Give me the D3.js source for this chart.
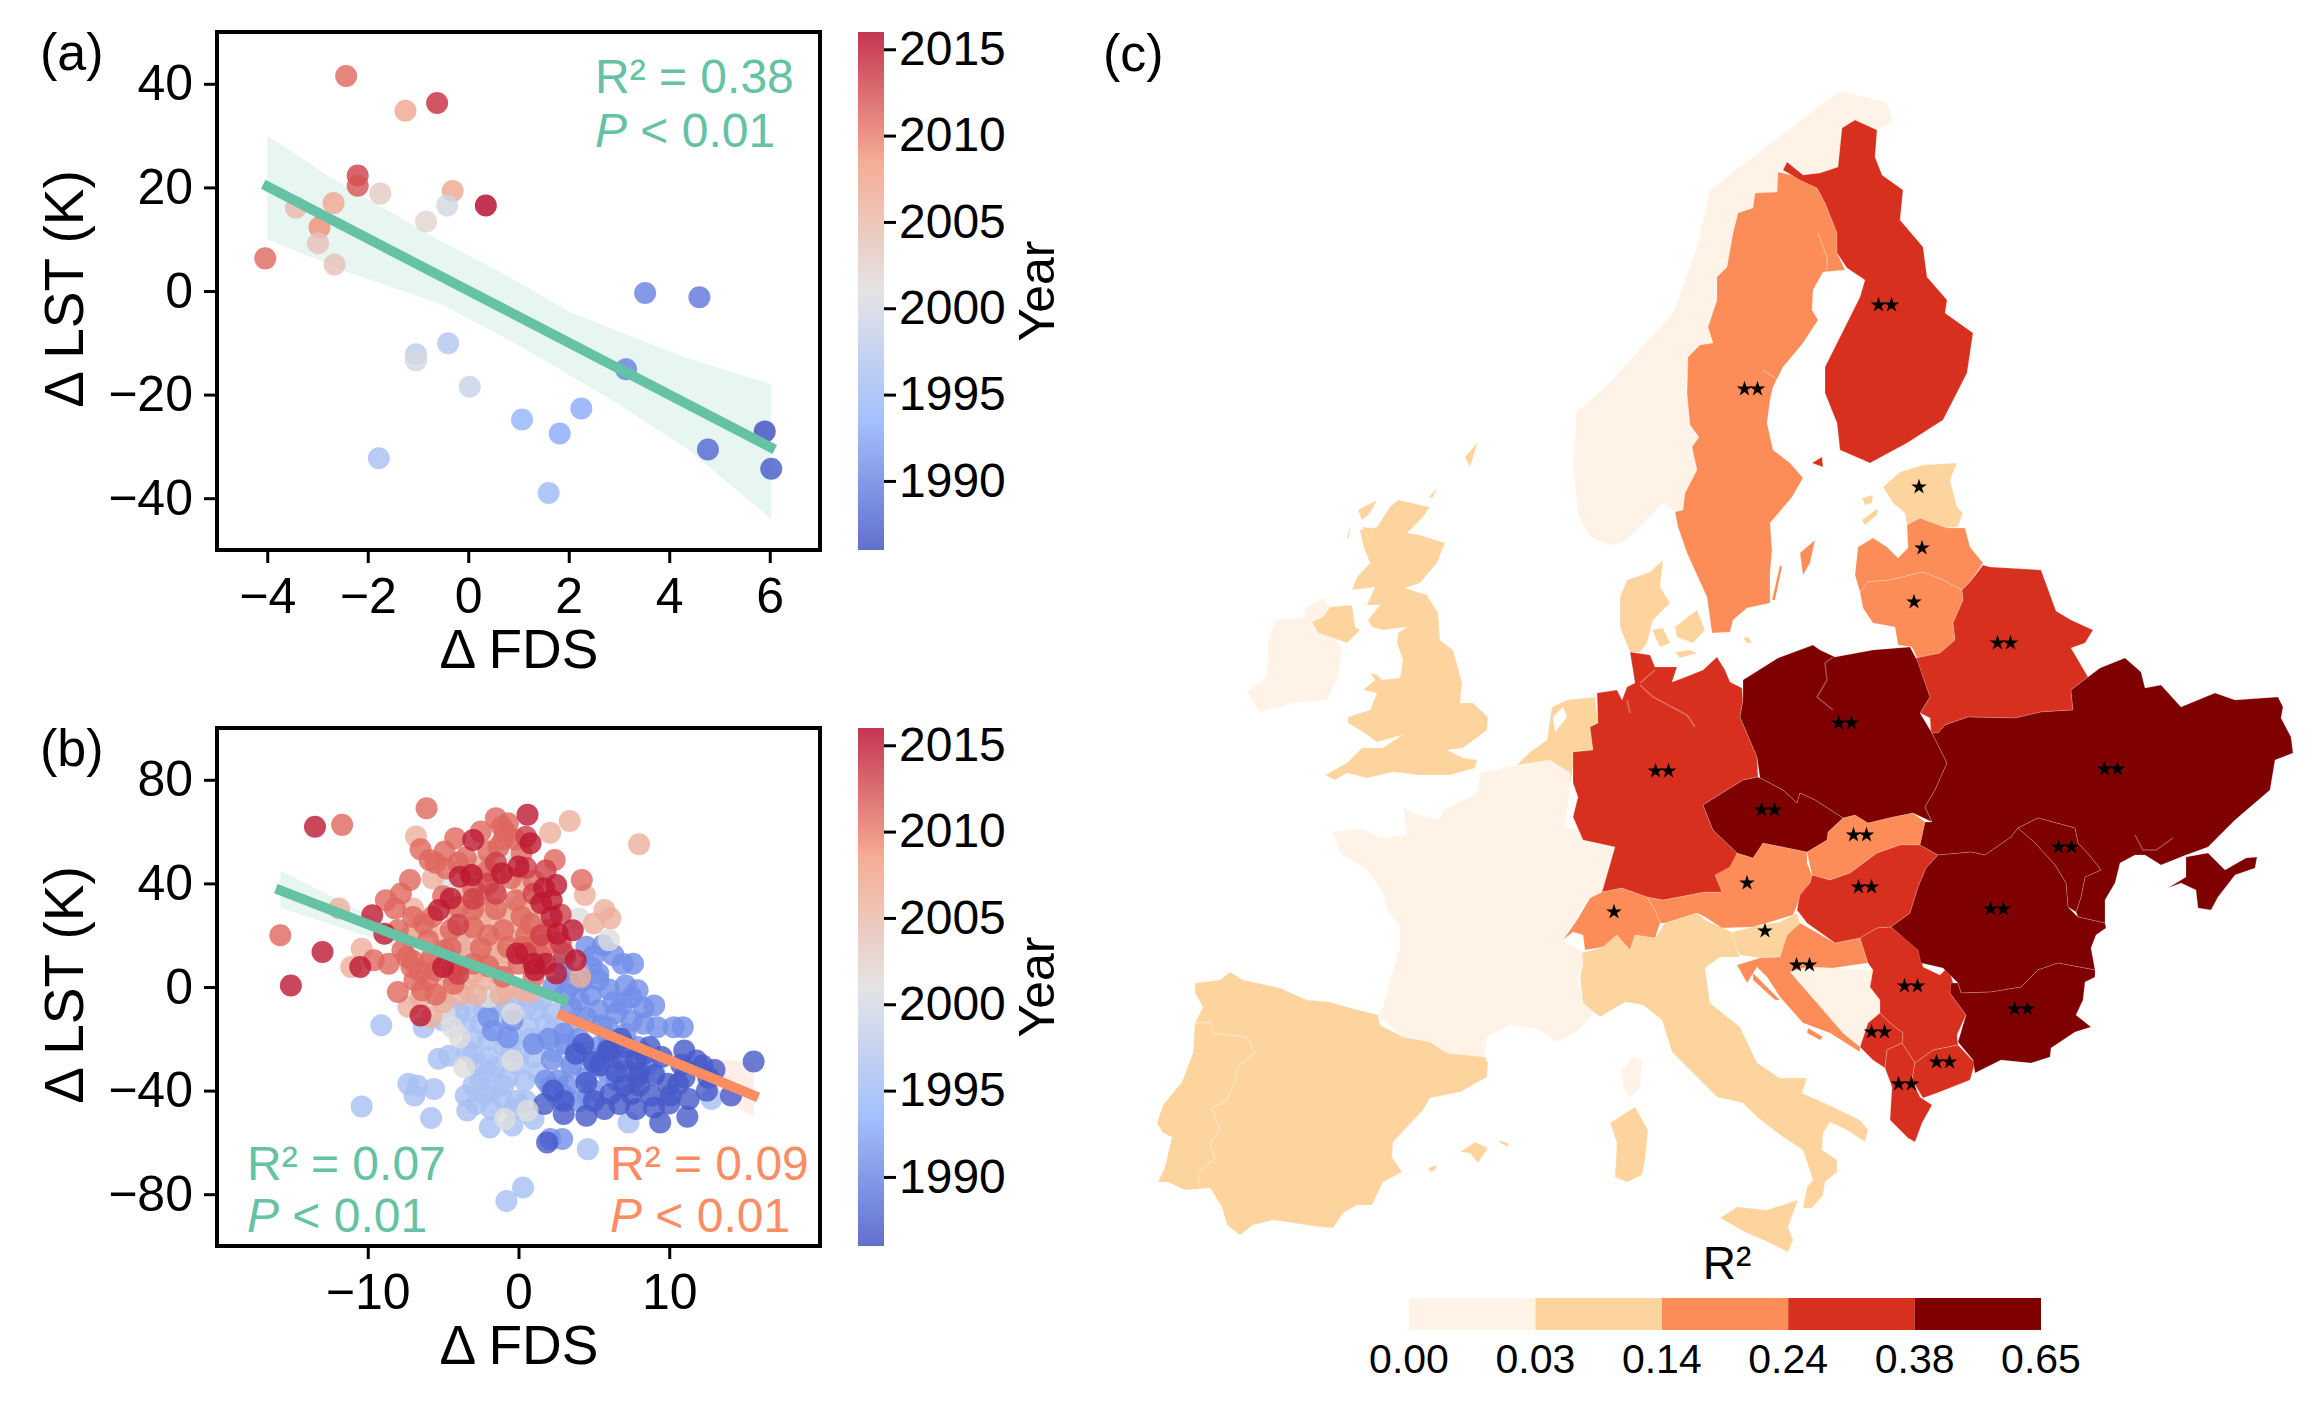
<!DOCTYPE html>
<html>
<head>
<meta charset="utf-8">
<script src="https://cdn.jsdelivr.net/npm/d3@7"></script>
<style>
  html, body { margin: 0; background: #fff; }
  text { font-family: "Liberation Sans", Arial, sans-serif; fill: #000; }
  .axis path { display: none; }
  .axis line { stroke: #000; stroke-width: 3; }
</style>
</head>
<body>
<svg id="chart" width="2318" height="1412"></svg>
<script>
// panel (a): x, y, year
const panelA = [
  [-2.43,41.5,2011],[-1.25,34.8,2007],[-0.62,36.3,2014],[-2.2,22.3,2013],[-2.2,20.3,2012],[-1.75,18.8,2003],
  [-0.31,19.3,2007],[0.35,16.5,2016],[-0.42,16.5,2000],[-2.68,17,2007],[-3.43,16.1,2005],[-0.84,13.4,2002],
  [-2.96,12.3,2009],[-2.99,9.2,2004],[-2.66,5.1,2004],[-4.04,6.3,2011],[3.52,-0.4,1990],[4.6,-1.2,1989],
  [-0.4,-10.1,1997],[-1.04,-12.2,1998],[-1.04,-13.4,2000],[0.03,-18.5,1999],[3.14,-15.1,1990],[2.25,-22.7,1993],
  [1.07,-24.8,1994],[1.82,-27.5,1993],[4.77,-30.6,1988],[5.9,-27.1,1986],[6.03,-34.3,1987],[-1.78,-32.3,1996],[1.6,-39,1995]
];
const fitA = [[-4.08,20.6],[6.1,-30.6]];
const bandAUpper = [[-4,30],[-2.72,21.8],[-0.54,9.6],[0.69,3.4],[2.05,-4.2],[4.37,-13],[6.03,-18]];
const bandALower = [[-4,10],[-2.45,3.8],[-0.54,-2.5],[1.1,-11],[3,-21.9],[4.37,-30.6],[6.03,-44]];

// panel (b): points grouped by the year shade they show
const b1987 = [[15.6,-28.8],[14.1,-41.9],[12.5,-40],[11,-24.5],[11.8,-28.4],[12.2,-30.3],[11.3,-43.2],[11.2,-50.1],[9.4,-52.3],[9,-46.5],
  [7.8,-47.1],[6.7,-45.2],[5.7,-47.1],[4.5,-49.7],[3,-49],[1.7,-45.2],[9.9,-37.4],[10.6,-37.4],[10.1,-41.9],[8.7,-23.2],[7.8,-28.4],
  [6.9,-28.4],[7.1,-23.2],[6.1,-41.3],[7.5,-41.3],[3.8,-25.8],[5.9,-24.5],[1.9,-60],[7.9,-34.8],[5.4,-30.3],
  [3,-44],[5,-44],[8,-38],[8.8,-42],[9,-34],[10.8,-30],[11,-35],[12.6,-35],[13,-32],[8,-33],[6.5,-33],[7,-38],[4.5,-37],[8.3,-26],[9.5,-27],
  [6,-25],[6.8,-20],[4.3,-22],[5,-29],[2.3,-40],[10,-45]];
const b1991 = [[4.5,15.5],[5.6,16.1],[6.3,12.3],[7.6,9],[6.9,9],[5.3,5.2],[4.8,7.7],[3.1,11.6],[5.3,2.6],[7.1,0.6],[7.9,-1.3],[6.9,-6.5],
  [9,-7.1],[8.3,-14.2],[9.2,-15.5],[10.3,-15.5],[10.9,-15.5],[5.3,-9],[4,-5.2],[4.8,-3.2],[2.3,0],[3.1,-2.6],[2.9,-58.7],[2.1,-58.7],
  [1.8,-36.1],[2.1,-38.7],[3.8,-24.5],[3.1,-21.9],[5.3,-23.2],[6.1,-27.1],[4.5,-34.8],[5.3,-30.3],[7.1,-18.1],[-2,9],[-2,-11.6],[-0.4,-12.9],
  [-0.7,-19.4],[2.6,-36.1],[5.9,-15.5],[7.2,-32.3],[7.9,-23.2],[-1.7,-16.8],
  [5,12],[3,6],[4.2,2],[6,-1],[6.5,-10],[7.5,-4],[8.3,-8],[5.5,-15],[4.5,-12],[3.5,-8],[3,-18],[4,-20],[6,-20],[7.5,-13],[6,-34],[3.2,-38],
  [3.5,-30],[2.2,-28],[1,-22],[5,-40],[4,-44],[3,-42],[8.5,-30],[6.5,-36],[2,-20],[4.7,-27],[6.3,-6],[3.5,1]];
const b1996 = [[-9.1,-14.8],[-6.3,-15.5],[-5,-12.9],[-3.9,-10.3],[-3.1,-6.5],[-2.3,-9],[-5.3,-27.7],[-4.6,-26.5],[-7.3,-37.4],[-6.7,-38.1],
  [-6.9,-41.9],[-5.6,-39.4],[-10.4,-46.1],[-5.8,-50.6],[-3.4,-47.7],[-2.8,-45.2],[-1.9,-54.2],[-0.4,-53.5],[1,-51],[4.6,-62.6],[0.3,-77.4],
  [-0.8,-82.6],[-2.5,-35.5],[-0.9,-23.2],[0.2,-24.5],[1,-27.1],[-0.4,-19.4],[0.7,-15.5],[2.3,-16.8],[2.3,-10.3],[1.8,-14.2],[1.2,-9],[-0.1,-5.2],
  [-1.1,-42.6],[-0.1,-43.9],[-1.7,-40],[-1.5,-31],[-0.7,-34.8],[-2.3,-41.3],[9,-32.9],[7.3,-52.3],[12.8,-43.2],[2.7,-43.2],[4.6,-42.6],[-3.9,16.8],
  [-2,-27.1],[0.4,-36.1],[-3.4,-24.5],
  [-4.5,-8],[-3.5,-14],[-2.5,-14],[-1.5,-6],[-0.8,-8],[0.5,-8],[1.5,-5],[-3,-20],[-2,-20],[-1,-12],[-0.5,-25],[0.8,-20],[-2,-33],[-1,-38],[0,-30],
  [1.3,-33],[-3,-38],[-1.8,-47],[-0.3,-47],[-2.7,-30],[-3,-26],[1.5,-21],[3.5,-14],[4,-12],[3.5,-31],[2.3,-25],[0.5,-44],[-3.5,-42]];
const b2001 = [[4,26.5],[-0.9,31],[-2.8,47.1],[-1.2,49],[6,18.1],[-4.7,40],[1.2,27.1],[-0.4,-10.3],[-3.6,-31],[-3.9,-19.4],[-4.4,-15.5],
  [-0.9,-51],[0.6,-47.7],[-0.4,-28.4],[-2,-3.9],[-5.5,-5.2],[-4.9,-10.3]];
const b2006 = [[3.4,64.1],[2.1,59.6],[8,55.1],[-6.8,58.1],[-5.7,41.9],[4.4,35.5],[5.7,29.7],[6.1,26.5],[5,24.5],[-11.9,30.3],[-10.4,14.8],
  [-11.1,7.7],[-7,30.3],[-4.1,27.1],[-3.4,25.8],[-3.1,18.1],[-1.6,25.8],[-1.5,14.2],[0.2,38.7],[0.8,23.9],[-1.6,37.4],[-2.5,46.5],[-3.4,36.1],
  [-6.1,23.2],[-5,19.4],[-1.6,18.1],[-0.9,12.9],[4.1,3.9],[-7.3,-7.7],[-5.8,-11.6],[-5,-1.3],[-3.6,0],[-2.3,2.6],[-0.8,-0.6],[0.2,-1.3],[-4.2,3.9],
  [-0.4,21.3],[-7.2,19.4],
  [-4,20],[-3,13],[-2,12],[-1,9],[-1.2,4],[-3.8,-3],[-2.8,-3],[-1.2,-3],[0.8,-2],[-6.5,-4],[-5,-6],[-0.5,28],[0,31],[1,30],[-2,30],[-1.5,42],
  [-2.5,26],[-4,12],[-6,9],[-3,5],[-7,22],[-2.8,32]];
const b2011 = [[-11.7,62.6],[-6.1,69],[-1.5,65.2],[-1.1,61.9],[-0.7,63.2],[-0.9,60],[-2.5,60],[-4.2,57.4],[-6.5,53.2],[-5.9,49],[-4.9,52.3],
  [-4.8,45.8],[-2,52.3],[-1.3,54.2],[0.2,51.6],[2.4,49],[4.2,41.3],[-7.2,41.3],[-7.8,36.1],[-8.2,30.3],[-8.8,33.5],[-9.6,10.3],[-8.6,9],[-7.1,7.7],
  [-6.9,2.6],[-8,-1.9],[-6.4,-1.3],[-15.8,20],[-4.9,14.2],[-5.7,27.1],[-6.3,24.5],[-2.5,35.5],[-3.2,43.2],[0.2,27.1],[-0.2,33.5],[0.3,15.5],[1.8,16.1],
  [1.1,16.1],[-0.7,15.5],[0.8,24.5],[-7.4,11.6],[-7.7,14.2],[-4.4,7.1],[-4.3,1.3],[-5.5,6.5],
  [-5.5,48],[-4,48],[-3.5,50],[-1,57],[-0.2,57],[-2,45],[-0.5,42],[1,41],[-3,38],[-1.5,30],[-3,30],[-4.5,22],[-3,23],[-2,20],[-6,18],[-7,10],[-6,3],
  [-5.5,-3],[-4.5,15],[-3,9],[-2,8],[0,9],[1,4],[-1,4],[-4,8],[-6.5,6],[-5.8,11],[-8,22],[-7,27],[-5,35],[-4,31],[0.5,20],[2,22],[1.5,12],[-1,22],[-2.5,15]];
const b2013 = [[-1.5,48],[0.5,46],[1.8,45],[0.5,58],[-2,40],[1.5,20],[2.8,17],[3,13],[0.5,13],[-4,24],[-3,34],[1,36],[-4,5],[-1.5,36],[2.8,28]];
const b2015 = [[-13.5,61.9],[-13,13.5],[-15.1,0.6],[0.6,66.5],[-3,56.8],[0.8,55.5],[0,46.5],[-1.1,43.9],[-3.1,43.2],[-3.9,42.6],[-4.5,34.2],
  [-5.3,29.7],[1.7,38.1],[2.5,39.4],[2.2,33.5],[1.5,32.3],[2.2,27.1],[3.6,21.9],[3.8,10.3],[2.5,5.2],[1.8,9],[2.6,20.6],[-8.9,20.6],[-9.7,27.7],
  [-10.5,7.7],[-6.5,-11],[-5,7.7],[-0.1,12.9],[1.1,6.5],[1,9]];
const bGroupYears = [1996, 1991, 1987, 2001, 2006, 2011, 2013, 2015];
const bGroups = [b1996, b1991, b1987, b2001, b2006, b2011, b2013, b2015];

const fitBGreen = [[-16.1,38],[3.3,-5.8]];
const bandBGreenUpper = [[-15.8,45],[-10,28],[-5,14.5],[3.3,-3.5]];
const bandBGreenLower = [[-15.8,30.5],[-10,19.5],[-5,8],[3.3,-9]];
const fitBOrange = [[2.6,-10.3],[15.9,-42.6]];
const bandBOrangeUpper = [[2.6,-8],[9.4,-23.9],[15.6,-29.7]];
const bandBOrangeLower = [[2.6,-13],[9.4,-28.5],[15.6,-50]];

const yearTicks = [1990, 1995, 2000, 2005, 2010, 2015];
const r2Breaks = ["0.00", "0.03", "0.14", "0.24", "0.38", "0.65"];

// panel (c): outlines, in map units
const norway = [[1610,545],[1590,537],[1578,515],[1573,463],[1577,410],[1583,407],[1610,382],[1630,360],[1673,313],[1697,247],[1710,190],[1740,167],[1810,113],[1840,91],[1887,102],[1893,122],[1877,130],[1855,120],[1842,128],[1838,167],[1820,173],[1803,177],[1787,162],[1778,172],[1777,192],[1755,193],[1753,208],[1738,213],[1733,233],[1727,267],[1717,277],[1717,300],[1708,327],[1713,343],[1700,345],[1688,357],[1687,393],[1690,425],[1699,437],[1692,447],[1697,470],[1685,493],[1683,510],[1675,512],[1663,503],[1647,520],[1623,543]];
const sweden = [[1778,172],[1800,177],[1817,188],[1825,203],[1837,233],[1837,253],[1845,270],[1823,272],[1813,290],[1812,310],[1818,320],[1803,343],[1783,367],[1773,387],[1770,400],[1767,423],[1773,450],[1790,463],[1803,478],[1792,497],[1770,523],[1772,550],[1770,573],[1770,603],[1747,608],[1733,620],[1730,632],[1712,633],[1707,597],[1687,553],[1678,527],[1675,512],[1683,510],[1685,493],[1697,470],[1692,447],[1699,437],[1690,425],[1687,393],[1688,357],[1700,345],[1713,343],[1708,327],[1717,300],[1717,277],[1727,267],[1733,233],[1738,213],[1753,208],[1755,193],[1777,192]];
const gotland = [[1800,553],[1815,540],[1810,563],[1803,575]];
const oland = [[1772,600],[1780,565],[1782,567],[1775,600]];
const finland = [[1855,120],[1877,130],[1875,157],[1882,175],[1903,190],[1900,220],[1923,247],[1927,277],[1947,300],[1945,313],[1973,333],[1967,373],[1943,420],[1907,443],[1870,463],[1840,450],[1837,423],[1825,393],[1825,367],[1840,337],[1860,297],[1865,280],[1847,268],[1837,253],[1837,233],[1825,203],[1817,188],[1800,180],[1783,170],[1787,162],[1803,175],[1820,173],[1838,167],[1842,128]];
const aland = [[1812,463],[1822,457],[1823,467]];
const estonia = [[1883,487],[1900,472],[1923,465],[1957,463],[1950,480],[1957,507],[1963,513],[1958,527],[1947,528],[1920,518],[1907,525],[1905,513],[1893,503]];
const saaremaa = [[1862,520],[1878,508],[1877,515],[1865,525]];
const hiiumaa = [[1862,498],[1873,495],[1872,503],[1865,505]];
const latvia = [[1855,575],[1858,547],[1873,538],[1887,547],[1898,558],[1908,548],[1907,525],[1920,518],[1947,528],[1965,528],[1970,547],[1983,563],[1970,582],[1962,590],[1943,580],[1923,572],[1890,580],[1868,582],[1860,592]];
const lithuania = [[1860,592],[1868,582],[1890,580],[1923,572],[1943,580],[1962,590],[1963,600],[1953,623],[1955,640],[1940,653],[1917,658],[1912,647],[1898,645],[1895,627],[1873,623],[1863,608]];
const belarus = [[1983,565],[1990,567],[2041,570],[2056,611],[2071,620],[2093,630],[2085,643],[2071,648],[2088,677],[2071,690],[2073,710],[2041,712],[2015,718],[1968,717],[1945,725],[1938,733],[1931,733],[1930,718],[1920,713],[1930,697],[1916,658],[1940,653],[1955,640],[1953,623],[1963,600],[1962,590],[1970,582]];
const poland = [[1743,680],[1778,658],[1813,645],[1820,650],[1835,657],[1873,650],[1910,647],[1917,660],[1930,697],[1920,713],[1932,733],[1947,763],[1935,790],[1925,807],[1932,822],[1913,813],[1893,817],[1868,823],[1855,815],[1843,818],[1815,800],[1800,793],[1797,803],[1783,790],[1760,778],[1757,757],[1740,717],[1743,700]];
const germany = [[1630,652],[1650,655],[1655,667],[1677,667],[1672,682],[1683,678],[1703,670],[1717,657],[1725,670],[1730,682],[1742,688],[1743,700],[1740,717],[1757,757],[1758,777],[1743,780],[1703,805],[1713,830],[1737,853],[1730,867],[1715,875],[1722,892],[1705,892],[1663,900],[1647,897],[1622,888],[1602,892],[1615,847],[1583,840],[1573,817],[1578,797],[1573,783],[1573,752],[1593,750],[1590,727],[1598,723],[1597,693],[1617,690],[1622,700],[1627,687],[1635,683]];
const denmark = [[1620,597],[1627,580],[1650,572],[1663,560],[1660,587],[1670,603],[1653,620],[1647,643],[1640,652],[1630,652],[1620,627]];
const fyn = [[1652,630],[1663,628],[1670,643],[1660,647]];
const zealand = [[1675,627],[1697,610],[1705,630],[1693,643],[1677,637]];
const lolland = [[1675,652],[1690,650],[1697,653],[1680,658]];
const bornholm = [[1743,638],[1748,637],[1752,643],[1747,643]];
const benelux = [[1517,765],[1530,752],[1547,740],[1552,707],[1567,700],[1595,697],[1598,723],[1590,727],[1593,750],[1573,752],[1573,767],[1570,785],[1570,773],[1550,760]];
const ijsselmeer = [[1563,707],[1567,717],[1555,732],[1553,717]];
const france = [[1517,765],[1480,773],[1478,790],[1470,797],[1443,810],[1440,820],[1413,813],[1403,807],[1407,835],[1380,838],[1363,828],[1333,832],[1340,853],[1367,870],[1383,893],[1387,910],[1400,927],[1400,947],[1393,970],[1383,1007],[1378,1015],[1403,1037],[1430,1042],[1447,1053],[1485,1057],[1487,1037],[1510,1025],[1535,1028],[1557,1042],[1577,1032],[1597,1010],[1583,1003],[1578,978],[1585,953],[1563,940],[1587,900],[1602,892],[1613,848],[1583,840],[1578,830],[1565,827],[1567,810],[1570,787],[1570,773],[1550,760]];
const corsica = [[1622,1070],[1633,1057],[1642,1060],[1640,1087],[1630,1098],[1623,1087]];
const iberia = [[1195,983],[1220,980],[1230,972],[1243,980],[1280,988],[1307,1000],[1330,1002],[1347,1007],[1378,1015],[1380,1025],[1403,1037],[1430,1042],[1447,1053],[1485,1057],[1488,1063],[1487,1077],[1460,1092],[1430,1098],[1423,1110],[1393,1142],[1392,1157],[1402,1172],[1383,1182],[1372,1205],[1357,1205],[1343,1213],[1333,1228],[1320,1227],[1273,1220],[1253,1225],[1240,1235],[1227,1225],[1222,1207],[1210,1188],[1185,1190],[1168,1182],[1158,1182],[1165,1167],[1172,1137],[1163,1133],[1157,1123],[1163,1105],[1182,1082],[1193,1053],[1195,1023],[1203,1007],[1195,993]];
const mallorca = [[1460,1152],[1475,1142],[1488,1148],[1478,1163],[1470,1153]];
const menorca = [[1498,1140],[1508,1143],[1509,1147],[1502,1144]];
const ibiza = [[1428,1168],[1437,1165],[1435,1170],[1430,1172]];
const britain = [[1325,775],[1347,763],[1362,748],[1383,748],[1402,735],[1377,742],[1363,732],[1348,723],[1348,717],[1370,710],[1377,693],[1363,690],[1375,680],[1370,673],[1377,675],[1382,680],[1400,678],[1403,660],[1397,643],[1398,633],[1407,627],[1383,630],[1372,627],[1368,620],[1380,605],[1367,605],[1375,587],[1352,590],[1357,577],[1370,563],[1363,545],[1360,530],[1377,527],[1390,507],[1398,500],[1430,507],[1423,517],[1407,533],[1420,535],[1445,543],[1437,563],[1420,583],[1405,588],[1427,595],[1438,613],[1440,640],[1453,650],[1462,683],[1460,703],[1473,703],[1488,717],[1487,730],[1463,748],[1447,750],[1463,758],[1477,760],[1475,768],[1450,775],[1420,775],[1393,772],[1367,778],[1347,773],[1335,780]];
const lewis = [[1358,510],[1377,500],[1370,513],[1362,520]];
const uist = [[1347,537],[1352,523],[1348,540]];
const skye = [[1362,527],[1372,528],[1370,542]];
const orkney = [[1428,498],[1438,487],[1433,497]];
const shetland = [[1465,457],[1478,442],[1470,467]];
const ulster = [[1312,622],[1323,617],[1330,607],[1352,605],[1355,627],[1360,630],[1347,643],[1333,638],[1318,633]];
const ireland = [[1247,692],[1267,677],[1268,643],[1275,620],[1307,617],[1303,610],[1323,598],[1330,607],[1323,617],[1312,622],[1318,633],[1333,638],[1342,647],[1338,677],[1327,700],[1293,703],[1260,712]];
const italy = [[1582,953],[1603,947],[1617,935],[1630,950],[1635,935],[1655,938],[1665,923],[1697,913],[1705,920],[1732,932],[1737,950],[1740,957],[1720,957],[1705,968],[1710,1003],[1740,1027],[1757,1063],[1780,1078],[1807,1078],[1802,1093],[1833,1107],[1860,1120],[1868,1130],[1865,1142],[1847,1130],[1830,1122],[1823,1133],[1822,1150],[1837,1160],[1837,1172],[1825,1182],[1823,1195],[1812,1208],[1803,1208],[1807,1187],[1813,1180],[1803,1150],[1783,1137],[1757,1117],[1743,1103],[1717,1097],[1697,1077],[1672,1052],[1662,1020],[1643,1005],[1625,1002],[1600,1017],[1595,1013],[1583,1003],[1580,977],[1583,963]];
const sicily = [[1720,1218],[1737,1207],[1767,1210],[1798,1200],[1788,1227],[1793,1240],[1788,1252],[1770,1243],[1747,1233]];
const sardinia = [[1610,1123],[1635,1107],[1648,1130],[1645,1160],[1642,1175],[1627,1182],[1615,1177],[1617,1143]];
const switzerland = [[1563,940],[1577,920],[1590,898],[1602,892],[1622,888],[1647,897],[1655,910],[1660,923],[1655,938],[1635,935],[1630,950],[1617,935],[1603,947],[1585,950],[1583,935],[1573,932]];
const austria = [[1647,897],[1663,900],[1705,892],[1722,892],[1715,875],[1737,853],[1753,858],[1763,843],[1807,852],[1807,863],[1812,875],[1810,883],[1798,903],[1793,915],[1753,927],[1722,928],[1705,917],[1697,913],[1665,923],[1660,923],[1655,910]];
const czechia = [[1703,805],[1743,780],[1758,777],[1783,790],[1797,803],[1800,793],[1815,800],[1843,818],[1828,832],[1827,840],[1807,852],[1763,843],[1753,858],[1737,853],[1713,830]];
const slovakia = [[1843,818],[1855,815],[1868,823],[1893,817],[1913,813],[1925,822],[1920,845],[1900,845],[1877,853],[1850,873],[1830,880],[1812,875],[1807,852],[1827,840],[1828,832]];
const hungary = [[1812,875],[1830,880],[1850,873],[1877,853],[1900,845],[1920,845],[1938,855],[1926,868],[1918,887],[1910,913],[1891,927],[1877,928],[1860,938],[1835,943],[1807,923],[1797,910],[1800,895],[1810,883]];
const ukraine = [[1931,733],[1938,733],[1945,725],[1968,717],[2015,718],[2041,712],[2073,710],[2071,690],[2088,677],[2100,668],[2125,658],[2141,672],[2145,688],[2161,685],[2181,707],[2215,693],[2235,700],[2278,697],[2283,707],[2281,718],[2291,737],[2293,753],[2275,760],[2270,790],[2256,802],[2235,820],[2218,837],[2208,847],[2186,855],[2161,865],[2145,855],[2135,855],[2120,863],[2115,883],[2105,900],[2105,923],[2078,917],[2076,912],[2081,897],[2085,877],[2101,870],[2091,857],[2078,843],[2075,828],[2038,818],[2018,828],[2011,837],[1985,855],[1971,852],[1938,855],[1920,845],[1925,822],[1932,822],[1925,807],[1935,790],[1947,763],[1932,733]];
const crimea = [[2168,888],[2186,877],[2186,857],[2208,853],[2225,870],[2246,858],[2257,857],[2255,868],[2235,875],[2218,897],[2211,910],[2198,908],[2196,890],[2181,883]];
const moldova = [[2018,828],[2038,818],[2075,828],[2078,843],[2091,857],[2101,870],[2085,877],[2081,897],[2076,912],[2068,907],[2066,883],[2055,865],[2035,843]];
const romania = [[1938,855],[1971,852],[1985,855],[2011,837],[2018,828],[2035,843],[2055,865],[2066,883],[2068,907],[2078,917],[2105,923],[2106,928],[2096,935],[2091,948],[2095,970],[2058,963],[2038,970],[2021,987],[1991,992],[1961,993],[1958,983],[1943,968],[1921,963],[1918,950],[1891,927],[1910,913],[1918,887],[1926,868]];
const bulgaria = [[1961,993],[1991,992],[2021,987],[2038,970],[2058,963],[2095,970],[2095,977],[2085,982],[2083,1000],[2076,1015],[2091,1027],[2075,1032],[2051,1048],[2050,1057],[2031,1063],[2001,1060],[1975,1073],[1973,1060],[1958,1042],[1966,1015],[1950,993],[1951,983],[1958,983]];
const serbia = [[1860,938],[1877,928],[1891,927],[1920,950],[1923,967],[1940,975],[1948,967],[1953,982],[1950,993],[1966,1015],[1957,1035],[1958,1045],[1933,1050],[1915,1063],[1902,1043],[1903,1033],[1890,1023],[1880,1013],[1880,1000],[1870,987],[1873,970],[1868,963]];
const montenegro = [[1860,1047],[1868,1023],[1880,1013],[1890,1023],[1903,1033],[1902,1043],[1887,1050],[1885,1068],[1873,1060]];
const albania = [[1885,1068],[1887,1050],[1902,1043],[1915,1063],[1912,1080],[1920,1097],[1932,1105],[1922,1123],[1915,1142],[1908,1138],[1890,1120],[1892,1087]];
const macedonia = [[1915,1063],[1933,1050],[1958,1045],[1975,1063],[1970,1080],[1937,1093],[1923,1098],[1912,1080]];
const slovenia = [[1732,932],[1753,927],[1780,922],[1797,913],[1800,923],[1787,935],[1780,957],[1760,958],[1740,955],[1737,950]];
const croatia = [[1800,923],[1835,943],[1860,938],[1868,963],[1833,968],[1807,967],[1790,972],[1817,1003],[1843,1033],[1860,1047],[1860,1052],[1830,1033],[1803,1023],[1780,997],[1767,977],[1757,967],[1747,983],[1737,965],[1760,958],[1780,957],[1787,935]];
const dalmatiaA = [[1808,1028],[1823,1037],[1820,1040],[1807,1033]];
const dalmatiaB = [[1753,973],[1780,1000],[1775,1000],[1753,980]];
const bosnia = [[1790,972],[1807,967],[1833,968],[1873,970],[1870,987],[1880,1000],[1880,1013],[1868,1023],[1860,1047],[1843,1033],[1817,1003]];

// class is the index of the R² bin
const regionRings = [
  [norway],[ireland],[france],[corsica],[bosnia],
  [britain],[lewis],[uist],[skye],[orkney],[shetland],[ulster],[iberia],[mallorca],[menorca],[ibiza],[italy],[sicily],[sardinia],[denmark],[fyn],[zealand],[lolland],[bornholm],[benelux, ijsselmeer],[estonia],[saaremaa],[hiiumaa],[slovenia],
  [sweden],[gotland],[oland],[latvia],[lithuania],[switzerland],[austria],[slovakia],[croatia],[dalmatiaA],[dalmatiaB],
  [finland],[aland],[belarus],[germany],[hungary],[serbia],[montenegro],[albania],[macedonia],
  [poland],[czechia],[ukraine],[crimea],[moldova],[romania],[bulgaria]
];
const regionClass = [
  0,0,0,0,0,
  1,1,1,1,1,1,1,1,1,1,1,1,1,1,1,1,1,1,1,1,1,1,1,1,
  2,2,2,2,2,2,2,2,2,2,2,
  3,3,3,3,3,3,3,3,3,
  4,4,4,4,4,4,4
];
const binColors = ["#fff3e8", "#fdd49e", "#fc8d59", "#d7301f", "#7f0000"];

const rivers = [
  [[1833,657],[1825,663],[1827,680],[1817,697],[1833,710]],
  [[1640,685],[1653,697],[1687,715],[1695,727]],
  [[1627,700],[1630,713]],
  [[1655,670],[1640,683]],
  [[1818,233],[1827,257],[1827,270]],
  [[1763,370],[1775,378]],
  [[2135,835],[2143,850],[2156,850],[2173,838]],
  [[1195,1023],[1210,1022],[1213,1033],[1247,1037],[1255,1052],[1238,1067],[1233,1087],[1227,1100],[1212,1108],[1220,1130],[1210,1143],[1215,1158],[1198,1173],[1200,1188]]
];

const starSpots = [[1885,305],[1751,389],[1919,487],[1922,548],[1914,602],[2004,643],[1845,723],[1662,771],[1768,810],[1860,835],[1865,887],[1747,883],[1614,912],[1765,931],[1803,965],[1911,986],[1878,1032],[1943,1062],[1905,1084],[1997,909],[2021,1009],[2065,847],[2111,769]];
const starCounts = [2,2,1,1,1,2,2,2,2,2,2,1,1,1,2,2,2,2,2,2,2,2,2];

const svg = d3.select("#chart");
const green = "#66c2a5", orange = "#fc8d62";

const yearColor = d3.scaleLinear()
  .domain([1986, 1993.5, 2001, 2008.5, 2016])
  .range(["#3b4cc0", "#8db0fe", "#dddddd", "#f4987a", "#b40426"]);

function bandShape(upper, lower, x, y) {
  const pts = upper.concat(lower.slice().reverse());
  return d3.line().x(d => x(d[0])).y(d => y(d[1]))(pts) + "Z";
}

function drawPanel(p) {
  const x = d3.scaleLinear().domain(p.xDomain).range([217, 820]);
  const y = d3.scaleLinear().domain(p.yDomain).range([p.bottom, p.top]);
  const line = d3.line().x(d => x(d[0])).y(d => y(d[1]));

  p.bands.forEach(b => {
    svg.append("path").attr("d", bandShape(b.upper, b.lower, x, y))
      .attr("fill", b.color).attr("opacity", 0.15);
  });

  svg.append("g").selectAll("circle").data(p.points).enter().append("circle")
    .attr("cx", d => x(d[0])).attr("cy", d => y(d[1])).attr("r", 11)
    .attr("fill", d => yearColor(d[2])).attr("opacity", 0.8);

  p.bands.forEach(b => {
    svg.append("path").attr("d", line(b.fit)).attr("fill", "none")
      .attr("stroke", b.color).attr("stroke-width", 10);
  });

  svg.append("g").attr("class", "axis").attr("transform", `translate(0,${p.bottom})`)
    .call(d3.axisBottom(x).tickValues(p.xTicks).tickSize(13).tickPadding(14))
    .selectAll("text").attr("font-size", 50).attr("font-family", "Liberation Sans");
  svg.append("g").attr("class", "axis").attr("transform", "translate(217,0)")
    .call(d3.axisLeft(y).tickValues(p.yTicks).tickSize(13).tickPadding(11))
    .selectAll("text").attr("font-size", 50).attr("font-family", "Liberation Sans");

  svg.append("rect").attr("x", 217).attr("y", p.top).attr("width", 603).attr("height", p.bottom - p.top)
    .attr("fill", "none").attr("stroke", "#000").attr("stroke-width", 4);

  const mid = (p.top + p.bottom) / 2;
  svg.append("text").text("Δ FDS").attr("x", 519).attr("y", p.bottom + 118)
    .attr("text-anchor", "middle").attr("font-size", 55);
  svg.append("text").text("Δ LST (K)").attr("transform", `translate(83,${mid - 2}) rotate(-90)`)
    .attr("text-anchor", "middle").attr("font-size", 55);
  svg.append("text").text(p.tag).attr("x", 40).attr("y", p.top + 38).attr("font-size", 52);

  // colour bar
  const cy = d3.scaleLinear().domain([1986, 2016]).range([p.bottom, p.top]);
  const gradId = "grad" + p.top;
  const grad = svg.append("defs").append("linearGradient").attr("id", gradId)
    .attr("x1", 0).attr("y1", 1).attr("x2", 0).attr("y2", 0);
  d3.range(0, 1.001, 0.05).forEach(t => {
    grad.append("stop").attr("offset", t).attr("stop-color", yearColor(1986 + t * 30));
  });
  svg.append("rect").attr("x", 858).attr("y", p.top).attr("width", 26).attr("height", p.bottom - p.top)
    .attr("fill", `url(#${gradId})`).attr("opacity", 0.8);
  svg.append("g").attr("class", "axis").attr("transform", "translate(884,0)")
    .call(d3.axisRight(cy).tickValues(yearTicks).tickFormat(d3.format("d")).tickSize(12).tickPadding(3))
    .selectAll("text").attr("font-size", 48).attr("font-family", "Liberation Sans");
  svg.append("text").text("Year").attr("transform", `translate(1054,${mid}) rotate(-90)`)
    .attr("text-anchor", "middle").attr("font-size", 50);

  p.notes.forEach(n => {
    const t = svg.append("text").attr("x", n.x).attr("y", n.y).attr("font-size", 48).style("fill", n.color);
    if (n.italic) {
      t.append("tspan").text("P").attr("font-style", "italic");
      t.append("tspan").text(n.text);
    } else t.text(n.text);
  });
}

drawPanel({
  tag: "(a)", top: 32, bottom: 550,
  xDomain: [-5, 7], yDomain: [-50, 50],
  xTicks: [-4, -2, 0, 2, 4, 6], yTicks: [-40, -20, 0, 20, 40],
  points: panelA,
  bands: [{ color: green, fit: fitA, upper: bandAUpper, lower: bandALower }],
  notes: [
    { x: 595, y: 93, text: "R² = 0.38", color: green },
    { x: 595, y: 147, text: " < 0.01", color: green, italic: true }
  ]
});

const allB = [];
bGroups.forEach((g, i) => g.forEach(d => allB.push([d[0], d[1], bGroupYears[i]])));

drawPanel({
  tag: "(b)", top: 728, bottom: 1246,
  xDomain: [-20, 20], yDomain: [-100, 100],
  xTicks: [-10, 0, 10], yTicks: [-80, -40, 0, 40, 80],
  points: allB,
  bands: [
    { color: green, fit: fitBGreen, upper: bandBGreenUpper, lower: bandBGreenLower },
    { color: orange, fit: fitBOrange, upper: bandBOrangeUpper, lower: bandBOrangeLower }
  ],
  notes: [
    { x: 247, y: 1180, text: "R² = 0.07", color: green },
    { x: 247, y: 1232, text: " < 0.01", color: green, italic: true },
    { x: 610, y: 1180, text: "R² = 0.09", color: orange },
    { x: 610, y: 1232, text: " < 0.01", color: orange, italic: true }
  ]
});

// panel (c)
svg.append("text").text("(c)").attr("x", 1103).attr("y", 71).attr("font-size", 52);

const mapPath = d3.geoPath(d3.geoIdentity());
const closeRing = r => r.concat([r[0]]);

svg.append("g").selectAll("path").data(regionRings).enter().append("path")
  .attr("d", d => mapPath({ type: "Polygon", coordinates: d.map(closeRing) }))
  .attr("fill", (d, i) => binColors[regionClass[i]])
  .attr("fill-rule", "evenodd")
  .attr("stroke", "#fff").attr("stroke-opacity", 0.2).attr("stroke-width", 1);

svg.append("g").selectAll("path").data(rivers).enter().append("path")
  .attr("d", d => mapPath({ type: "LineString", coordinates: d }))
  .attr("fill", "none").attr("stroke", "#fff").attr("stroke-opacity", 0.3).attr("stroke-width", 1.5);

const star = d3.symbol().type(d3.symbolStar).size(75);
starSpots.forEach((s, i) => {
  const offsets = starCounts[i] === 2 ? [-6.5, 6.5] : [0];
  offsets.forEach(o => {
    svg.append("path").attr("d", star()).attr("fill", "#000")
      .attr("transform", `translate(${s[0] + o},${s[1]})`);
  });
});

// binned legend
const legendX = d3.scalePoint().domain(r2Breaks).range([1409, 2041]);
svg.append("g").selectAll("rect").data(binColors).enter().append("rect")
  .attr("x", (d, i) => legendX(r2Breaks[i])).attr("y", 1298)
  .attr("width", legendX.step()).attr("height", 32).attr("fill", d => d);
svg.append("g").selectAll("text").data(r2Breaks).enter().append("text")
  .text(d => d).attr("x", d => legendX(d)).attr("y", 1373)
  .attr("text-anchor", "middle").attr("font-size", 41);
svg.append("text").text("R²").attr("x", 1727).attr("y", 1279)
  .attr("text-anchor", "middle").attr("font-size", 46);
</script>
</body>
</html>
